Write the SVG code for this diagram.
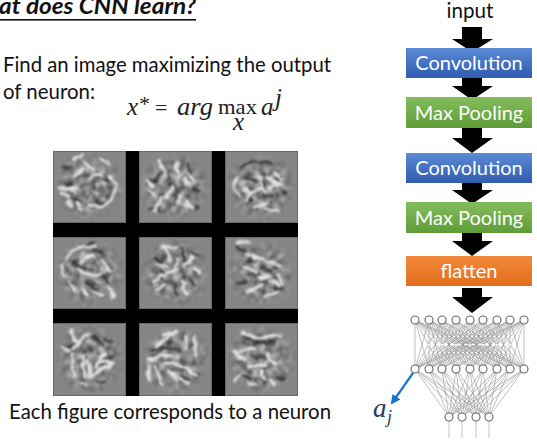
<svg xmlns="http://www.w3.org/2000/svg" width="537" height="445" viewBox="0 0 537 445">
<style>
.t{font-family:"Lato","Open Sans","Liberation Sans",sans-serif;font-size:20.6px;fill:#111}
.b{font-family:"Lato","Open Sans","Liberation Sans",sans-serif;font-size:20px;fill:#fff;text-anchor:middle}
.m{font-family:"Liberation Serif",serif;font-style:italic;font-size:25px;fill:#222}
.r{font-family:"Liberation Serif",serif;font-size:22px;fill:#222}
.arrow{fill:#000}
.w{fill:none;stroke:#8c8c8c;stroke-width:.55}
.n{fill:#fff;stroke:#666;stroke-width:1.1}
.s{fill:#fff;stroke:#aaa;stroke-width:.4}
.tile{fill:#868686}
.l{fill:none;stroke:#e2e2e2;stroke-width:3;stroke-linecap:round;stroke-linejoin:round}
.d{fill:none;stroke:#3a3a3a;stroke-width:2.8;stroke-linecap:round;stroke-linejoin:round}
</style>
<defs>
<linearGradient id="gb" x1="0" y1="0" x2="0" y2="1"><stop offset="0" stop-color="#5b8ad6"/><stop offset="1" stop-color="#2f5cb0"/></linearGradient>
<linearGradient id="gg" x1="0" y1="0" x2="0" y2="1"><stop offset="0" stop-color="#84bd5e"/><stop offset="1" stop-color="#5f9c36"/></linearGradient>
<linearGradient id="go" x1="0" y1="0" x2="0" y2="1"><stop offset="0" stop-color="#f2873a"/><stop offset="1" stop-color="#e26f1c"/></linearGradient>
<filter id="blur" x="-15%" y="-15%" width="130%" height="130%" color-interpolation-filters="sRGB"><feTurbulence type="fractalNoise" baseFrequency="0.1" numOctaves="2" seed="4" result="n"/><feDisplacementMap in="SourceGraphic" in2="n" scale="7" xChannelSelector="R" yChannelSelector="G"/><feGaussianBlur stdDeviation="1.05"/></filter>
<filter id="grain" x="0" y="0" width="100%" height="100%" color-interpolation-filters="sRGB"><feTurbulence type="fractalNoise" baseFrequency="0.15" numOctaves="2" seed="9"/><feColorMatrix values="1.7 0 0 0 -0.33  1.7 0 0 0 -0.33  1.7 0 0 0 -0.33  0 0 0 0 1"/><feGaussianBlur stdDeviation="0.8"/></filter>
<radialGradient id="rg"><stop offset="0.5" stop-color="#fff" stop-opacity=".5"/><stop offset="1" stop-color="#fff" stop-opacity="0"/></radialGradient>
<mask id="tm" maskUnits="userSpaceOnUse" x="53" y="151" width="245" height="245"><g fill="url(#rg)"><rect x="53" y="151" width="73" height="72"/><rect x="139" y="151" width="73" height="72"/><rect x="225" y="151" width="73" height="72"/><rect x="53" y="237" width="73" height="72"/><rect x="139" y="237" width="73" height="72"/><rect x="225" y="237" width="73" height="72"/><rect x="53" y="323" width="73" height="73"/><rect x="139" y="323" width="73" height="73"/><rect x="225" y="323" width="73" height="73"/></g></mask>
<marker id="ah" viewBox="0 0 10 10" refX="8" refY="5" markerWidth="4.4" markerHeight="4.4" orient="auto"><path d="M0 0L10 5L0 10z" fill="#1a75c9"/></marker>
</defs>
<rect width="537" height="445" fill="#fff"/>

<g id="title">
<text x="-1" y="14" font-family="Lato,'Open Sans',sans-serif" font-size="22.5" font-weight="700" font-style="italic" fill="#111" textLength="197" lengthAdjust="spacingAndGlyphs">at does CNN learn?</text>
<rect x="0" y="19" width="196" height="1.6" fill="#111"/>
</g>
<g id="description">
<text class="t" x="3" y="72" textLength="328" lengthAdjust="spacingAndGlyphs">Find an image maximizing the output</text>
<text class="t" x="3" y="99" textLength="92" lengthAdjust="spacingAndGlyphs">of neuron:</text>
</g>
<g id="formula">
<text class="m" x="127" y="115">x</text><text class="r" x="139" y="111" font-size="16">*</text>
<text class="r" x="155" y="115" font-size="25">=</text>
<text class="m" x="177" y="115" textLength="36" lengthAdjust="spacingAndGlyphs">arg</text>
<text class="r" x="218" y="114" textLength="39" lengthAdjust="spacingAndGlyphs">max</text>
<text class="m" x="233" y="130" font-size="15">x</text>
<text class="m" x="261" y="115">a</text>
<text class="m" x="275" y="106" font-size="17">j</text>
</g>

<g id="neuron-figures">
<rect x="53" y="151" width="245" height="245" fill="#000"/>
<rect class="tile" x="53" y="151" width="73" height="72"/><rect class="tile" x="139" y="151" width="73" height="72"/><rect class="tile" x="225" y="151" width="73" height="72"/>
<rect class="tile" x="53" y="237" width="73" height="72"/><rect class="tile" x="139" y="237" width="73" height="72"/><rect class="tile" x="225" y="237" width="73" height="72"/>
<rect class="tile" x="53" y="323" width="73" height="73"/><rect class="tile" x="139" y="323" width="73" height="73"/><rect class="tile" x="225" y="323" width="73" height="73"/>
<g mask="url(#tm)"><rect x="53" y="151" width="245" height="245" filter="url(#grain)"/></g>
<g transform="translate(53,151)"><g filter="url(#blur)">
<path class="d" d="M10 16h8M42 30l1 8M50 28h7M20 46l6 6M13 33l5 1M44 50l8 2"/>
<path class="l" d="M6 38l7-2 8 3M6 44h10M14 50l5 7M24 52l5 7M32 10l8 8M48 8l8 4M56 25l8 10-4 12-12 8-12-2M36 28l4-6 8 2M20 8l10-4M22 24l8-6"/>
</g></g>
<g transform="translate(139,151)"><g filter="url(#blur)">
<path class="d" d="M20 22l-6 10M36 34l4 10M48 14l3 8M54 38l6 2M10 58l10 1M50 52l7 5M12 28l4 2"/>
<path class="l" d="M38 12l1 16M20 10l6 14M48 22l6 6M46 28l4 4M8 30l6 4M34 36l-6 12M40 44v6M46 53l8 4M48 50l6 6M24 46l-8 14M10 38l6 6"/>
</g></g>
<g transform="translate(225,151)"><g filter="url(#blur)">
<path class="d" d="M16 16q14-10 30-2M22 26l8 4M50 28l6-2M38 44l8 2M58 40l4 2M22 46l4 4"/>
<path class="l" d="M12 26q-6 10 2 18M34 26l6 16M42 26l14 8M46 36l8-4M22 50q6-12 16-12M30 56l12-4M40 58l14 2M18 38l8 4M50 22l6 6"/>
</g></g>
<g transform="translate(53,237)"><g filter="url(#blur)">
<path class="d" d="M22 12l18-6M20 24q8 10 22 8M40 14l8 2M34 46l10 6M26 8l6 2M50 40l6 10"/>
<path class="l" d="M14 20q10-14 28-10M28 24l12-6M26 34q12 8 22 2M48 22l8 12M16 44l6 10M30 52l4 6M42 54l8 4M54 48l6 12M8 28l4 10"/>
</g></g>
<g transform="translate(139,237)"><g filter="url(#blur)">
<path class="d" d="M16 20l10 8M42 12l2 12M54 16l6 2M22 34l2 8M50 44l6 4M36 50l2 8"/>
<path class="l" d="M26 12l6 10M18 26l10 4M38 22l-4 14M46 28l8-8M26 36l14-4M14 44l12-6M22 10l16 0M18 54l8-6M42 44l6 12M54 30l6 6"/>
</g></g>
<g transform="translate(225,237)"><g filter="url(#blur)">
<path class="d" d="M12 10l8 4M22 24l10-2M36 30l12 3M26 36l8 2M12 46l10-2M50 50l6 2"/>
<path class="l" d="M12 6l12 0M22 18l16 4M40 24l14 4M18 30l14 6M34 42l12-4M44 44l10 4M22 56l14-8M40 60l12-6M52 38l6 8"/>
</g></g>
<g transform="translate(53,323)"><g filter="url(#blur)">
<path class="d" d="M14 22h8M40 14l10 8M52 18l8 0M50 34l8 0M44 58l8 2M30 30l6 14"/>
<path class="l" d="M18 8l6 14M36 10l-16 14M18 30l4 24M30 32l2 22M34 38l4 16M42 44l10-14M44 48l14-6M40 52l12-8M46 38l14 2M8 24l8 2M28 60l4 2"/>
</g></g>
<g transform="translate(139,323)"><g filter="url(#blur)">
<path class="d" d="M12 26l14-2M28 24l14 4M38 42l8 2M54 50l6 2M44 52l8 6"/>
<path class="l" d="M18 22l20-14M24 12l14-4M10 36l22-4M8 44l4 14M16 42l6 18M26 40q14 0 30 12M34 50l16 10M30 48l8 10M56 12v20M46 14v12"/>
</g></g>
<g transform="translate(225,323)"><g filter="url(#blur)">
<path class="d" d="M20 14l10 6 20-2M30 36l10-2M18 54l8 2M36 54l4 6M52 54l6 2"/>
<path class="l" d="M18 10l14 6 24-4M30 24l-18 4M8 28l12 10M26 44l14-2M44 30l6 12M36 48l4 8M14 52l-4 6M46 56l4 6M24 60l6 2"/>
</g></g>
<g fill="none" stroke="#5e5e5e" stroke-width=".7">
<rect x="53.4" y="151.4" width="72.2" height="71.2"/><rect x="139.4" y="151.4" width="72.2" height="71.2"/><rect x="225.4" y="151.4" width="72.2" height="71.2"/>
<rect x="53.4" y="237.4" width="72.2" height="71.2"/><rect x="139.4" y="237.4" width="72.2" height="71.2"/><rect x="225.4" y="237.4" width="72.2" height="71.2"/>
<rect x="53.4" y="323.4" width="72.2" height="72.2"/><rect x="139.4" y="323.4" width="72.2" height="72.2"/><rect x="225.4" y="323.4" width="72.2" height="72.2"/>
</g>
<text class="t" x="9" y="419" textLength="322" lengthAdjust="spacingAndGlyphs">Each figure corresponds to a neuron</text>
</g>

<g id="connectors">
<path class="arrow" d="M462 27h20v12h11l-21 13-20-13h10z"/>
<path class="arrow" d="M462 75h20v11h11l-21 14-20-14h10z"/>
<path class="arrow" d="M462 128h20v10h11l-21 15-20-15h10z"/>
<path class="arrow" d="M462 180h20v10h11l-21 14-20-14h10z"/>
<path class="arrow" d="M462 231h20v10h11l-21 15-20-15h10z"/>
<path class="arrow" d="M462 288h20v9h11l-21 16-20-16h10z"/>
<path class="w" d="M415 320V369M415 320L429 369M415 320L442 369M415 320L456 369M415 320L470 369M415 320L483 369M415 320L497 369M415 320L510 369M415 320L524 369
M429 320L415 369M429 320V369M429 320L442 369M429 320L456 369M429 320L470 369M429 320L483 369M429 320L497 369M429 320L510 369M429 320L524 369
M442 320L415 369M442 320L429 369M442 320V369M442 320L456 369M442 320L470 369M442 320L483 369M442 320L497 369M442 320L510 369M442 320L524 369
M456 320L415 369M456 320L429 369M456 320L442 369M456 320V369M456 320L470 369M456 320L483 369M456 320L497 369M456 320L510 369M456 320L524 369
M470 320L415 369M470 320L429 369M470 320L442 369M470 320L456 369M470 320V369M470 320L483 369M470 320L497 369M470 320L510 369M470 320L524 369
M483 320L415 369M483 320L429 369M483 320L442 369M483 320L456 369M483 320L470 369M483 320V369M483 320L497 369M483 320L510 369M483 320L524 369
M497 320L415 369M497 320L429 369M497 320L442 369M497 320L456 369M497 320L470 369M497 320L483 369M497 320V369M497 320L510 369M497 320L524 369
M510 320L415 369M510 320L429 369M510 320L442 369M510 320L456 369M510 320L470 369M510 320L483 369M510 320L497 369M510 320V369M510 320L524 369
M524 320L415 369M524 320L429 369M524 320L442 369M524 320L456 369M524 320L470 369M524 320L483 369M524 320L497 369M524 320L510 369M524 320V369"/>
<path class="w" d="M415 369L449 417M415 369L462 417M415 369L476 417M415 369L489 417
M429 369L449 417M429 369L462 417M429 369L476 417M429 369L489 417
M442 369L449 417M442 369L462 417M442 369L476 417M442 369L489 417
M456 369L449 417M456 369L462 417M456 369L476 417M456 369L489 417
M470 369L449 417M470 369L462 417M470 369L476 417M470 369L489 417
M483 369L449 417M483 369L462 417M483 369L476 417M483 369L489 417
M497 369L449 417M497 369L462 417M497 369L476 417M497 369L489 417
M510 369L449 417M510 369L462 417M510 369L476 417M510 369L489 417
M524 369L449 417M524 369L462 417M524 369L476 417M524 369L489 417"/>
<path d="M449 417V438M462 417V438M476 417V438M489 417V438" fill="none" stroke="#aaa" stroke-width=".7"/>
<path d="M413 373L392 403" fill="none" stroke="#1a75c9" stroke-width="2.2" marker-end="url(#ah)"/>
</g>

<g id="input"><text class="t" x="470" y="18" text-anchor="middle">input</text></g>
<g id="conv1"><rect x="406" y="48" width="126" height="30" fill="url(#gb)"/><text class="b" x="469" y="70">Convolution</text></g>
<g id="pool1"><rect x="406" y="97" width="126" height="31" fill="url(#gg)"/><text class="b" x="469" y="120">Max Pooling</text></g>
<g id="conv2"><rect x="406" y="153" width="126" height="30" fill="url(#gb)"/><text class="b" x="469" y="175">Convolution</text></g>
<g id="pool2"><rect x="406" y="202" width="126" height="31" fill="url(#gg)"/><text class="b" x="469" y="225">Max Pooling</text></g>
<g id="flatten"><rect x="406" y="256" width="126" height="30" fill="url(#go)"/><text class="b" x="469" y="278">flatten</text></g>

<g id="network">
<g id="layer-top"><circle class="n" cx="415" cy="320" r="4"/><circle class="n" cx="429" cy="320" r="4"/><circle class="n" cx="442" cy="320" r="4"/><circle class="n" cx="456" cy="320" r="4"/><circle class="n" cx="470" cy="320" r="4"/><circle class="n" cx="483" cy="320" r="4"/><circle class="n" cx="497" cy="320" r="4"/><circle class="n" cx="510" cy="320" r="4"/><circle class="n" cx="524" cy="320" r="4"/></g>
<g id="layer-mid"><circle class="s" cx="429" cy="345" r="1.5"/><circle class="s" cx="442" cy="345" r="1.5"/><circle class="s" cx="456" cy="345" r="1.5"/><circle class="s" cx="470" cy="345" r="1.5"/><circle class="s" cx="483" cy="345" r="1.5"/><circle class="s" cx="497" cy="345" r="1.5"/><circle class="s" cx="510" cy="345" r="1.5"/></g>
<g id="layer-third"><circle class="n" cx="415" cy="369" r="4"/><circle class="n" cx="429" cy="369" r="4"/><circle class="n" cx="442" cy="369" r="4"/><circle class="n" cx="456" cy="369" r="4"/><circle class="n" cx="470" cy="369" r="4"/><circle class="n" cx="483" cy="369" r="4"/><circle class="n" cx="497" cy="369" r="4"/><circle class="n" cx="510" cy="369" r="4"/><circle class="n" cx="524" cy="369" r="4"/></g>
<g id="layer-bottom"><circle class="n" cx="449" cy="417" r="4"/><circle class="n" cx="462" cy="417" r="4"/><circle class="n" cx="476" cy="417" r="4"/><circle class="n" cx="489" cy="417" r="4"/></g>
</g>

<g id="aj"><text x="373" y="417" font-family="'Liberation Serif',serif" font-style="italic" font-size="27" fill="#1f3a63">a</text><text x="387" y="423" font-family="'Liberation Serif',serif" font-style="italic" font-size="18" fill="#1f3a63">j</text></g>
</svg>
